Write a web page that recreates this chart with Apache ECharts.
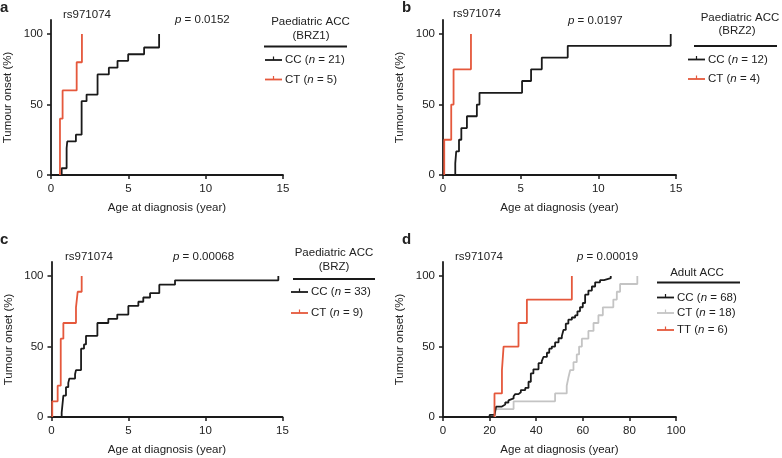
<!DOCTYPE html>
<html><head><meta charset="utf-8">
<script src="https://cdn.jsdelivr.net/npm/echarts@6/dist/echarts.min.js"></script>
<style>html,body{margin:0;padding:0;background:#fff}#c{width:782px;height:458px}</style>
</head><body><div id="c"></div>
<script>
// ---------- data ----------
const yTicks = [0, 50, 100];
const xTicksPaed = [0, 5, 10, 15];
const xTicksAdult = [0, 20, 40, 60, 80, 100];

// Panel a (BRZ1)
const aCC_t = [0.69, 0.69, 1.01, 1.05, 1.61, 1.98, 2.3, 3.01, 3.74, 4.3, 4.99, 6.02, 6.99];
const aCC_v = [0, 4.8, 19.0, 23.8, 28.6, 52.4, 57.1, 71.4, 76.2, 81.0, 85.7, 90.5, 100];
const aCT_t = [0.58, 0.58, 0.75, 1.66, 2.0];
const aCT_v = [0, 40, 60, 80, 100];

// Panel b (BRZ2)
const bCC_t = [0.79, 0.79, 0.85, 1.03, 1.18, 1.54, 2.18, 2.35, 5.09, 5.67, 6.36, 8.03, 14.66];
const bCC_v = [0, 8.3, 16.7, 25, 33.3, 41.7, 50, 58.3, 66.7, 75, 83.3, 91.7, 100];
const bCT_t = [0.08, 0.08, 0.53, 0.68, 1.8];
const bCT_v = [0, 25, 50, 75, 100];

// Panel c (BRZ)
const cCC_t = [0.66, 0.66, 0.77, 0.94, 1.09, 1.16, 1.53, 1.59, 1.92, 2.11, 2.24, 2.98, 3.69, 4.27, 4.99, 5.64, 5.96, 6.4, 7.0, 8.02, 14.73];
const cCC_v = [0, 3.0, 15.2, 21.2, 24.2, 27.3, 30.3, 33.3, 48.5, 51.5, 57.6, 66.7, 69.7, 72.7, 78.8, 81.8, 84.8, 87.9, 93.9, 97.0, 100];
const cCT_t = [0.05, 0.05, 0.4, 0.6, 0.77, 1.59, 1.7, 1.96];
const cCT_v = [0, 11.1, 22.2, 55.6, 66.7, 77.8, 88.9, 100];

// Panel d (Adult)
const dCC_t = [20, 20, 22.1, 22.8, 25.3, 26.7, 28.1, 28.8, 30.3, 31, 32.4, 33.4, 35.3, 36.7, 37.7, 38.8, 41, 42.4, 43.1, 44.6, 45.6, 46.7, 48.1, 49.6, 51, 51.7, 52.7, 53.8, 55.3, 56.7, 57.7, 58.8, 60, 61, 62.4, 63.9, 65.3, 67.4, 69.1, 72];
const dCC_v = [0, 1.5, 2.9, 7.4, 8.8, 10.3, 11.8, 13.2, 14.7, 16.2, 17.6, 19.1, 20.6, 25.0, 30.9, 33.8, 38.2, 39.7, 42.6, 45.6, 48.5, 50.0, 52.9, 55.9, 57.4, 61.8, 66.2, 69.1, 70.6, 72.1, 75.0, 77.9, 80.9, 86.8, 89.7, 92.6, 95.6, 97.1, 98.5, 100];
const dCT_t = [22.4, 22.4, 30.3, 48.1, 53.1, 53.8, 54.6, 56, 57.4, 58.4, 59.6, 62.4, 64.6, 66.7, 68.6, 73.1, 74.6, 76, 83.4];
const dCT_v = [0, 5.6, 11.1, 16.7, 22.2, 27.8, 33.3, 38.9, 44.4, 50, 55.6, 61.1, 66.7, 72.2, 77.8, 83.3, 88.9, 94.4, 100];
const dTT_t = [22.1, 22.1, 25.3, 26, 32.4, 36, 55.3];
const dTT_v = [0, 16.7, 33.3, 50, 66.7, 83.3, 100];

// ---------- styling ----------
const FONT = 'Liberation Sans, Arial, Helvetica, sans-serif';
const BLACK = '#1a1a1a', RED = '#e5583c', GREY = '#c4c4c4';
const FS = 11.5;

const zip = (t, v) => t.map((x, i) => [x, v[i]]);

const grids = [
  {left: 51, top: 20, width: 232, height: 155},
  {left: 443, top: 20, width: 233, height: 155},
  {left: 51.5, top: 262, width: 231, height: 155},
  {left: 443, top: 262, width: 233, height: 155}
];

function xAxis(i, max, interval, ticks) {
  return {
    type: 'value', gridIndex: i, min: 0, max: max, interval: interval,
    name: 'Age at diagnosis (year)', nameLocation: 'middle', nameGap: 27,
    nameTextStyle: {fontFamily: FONT, fontSize: FS, color: '#222'},
    axisLine: {show: true, onZero: false, lineStyle: {color: BLACK, width: 1.8}},
    axisTick: {show: true, length: 4, lineStyle: {color: BLACK, width: 1.5}, customValues: ticks},
    axisLabel: {fontFamily: FONT, fontSize: FS, color: '#222', margin: 8, customValues: ticks},
    splitLine: {show: false}
  };
}
function yAxis(i) {
  return {
    type: 'value', gridIndex: i, min: 0, max: 110, interval: 50,
    name: 'Tumour onset (%)', nameLocation: 'middle', nameGap: 37, nameRotate: 90,
    nameTextStyle: {fontFamily: FONT, fontSize: FS, color: '#222'},
    axisLine: {show: true, onZero: false, lineStyle: {color: BLACK, width: 1.8}},
    axisTick: {show: true, length: 4, lineStyle: {color: BLACK, width: 1.5}, customValues: yTicks},
    axisLabel: {fontFamily: FONT, fontSize: FS, color: '#222', margin: 8, customValues: yTicks},
    splitLine: {show: false}
  };
}
function km(i, t, v, color) {
  return {
    type: 'line', xAxisIndex: i, yAxisIndex: i, step: 'end',
    data: zip(t, v), symbol: 'none', animation: false,
    lineStyle: {color: color, width: 1.8}
  };
}

// ---------- graphics (labels & legends) ----------
const g = [];
function txt(x, y, text, opts) {
  g.push({type: 'text', x: x, y: y, silent: true, style: Object.assign({
    text: text, fontFamily: FONT, fontSize: FS, fill: '#222',
    align: 'left', verticalAlign: 'middle',
    rich: {i: {fontStyle: 'italic', fontFamily: FONT, fontSize: FS, fill: '#222'}}
  }, opts || {})});
}
function hline(x1, x2, y, color, w) {
  g.push({type: 'line', silent: true, shape: {x1: x1, y1: y, x2: x2, y2: y}, style: {stroke: color, lineWidth: w}});
}
function sample(x, y, color, label) {
  hline(x, x + 17, y, color, 1.8);
  g.push({type: 'line', silent: true, shape: {x1: x + 8.5, y1: y - 3.5, x2: x + 8.5, y2: y}, style: {stroke: color, lineWidth: 1.2}});
  txt(x + 20, y, label);
}
function panelLetter(x, y, l) {
  txt(x, y, l, {fontWeight: 'bold', fontSize: 15, verticalAlign: 'top'});
}

// panel a
panelLetter(0, 0, 'a');
txt(63, 15, 'rs971074');
txt(175, 20, '{i|p} = 0.0152');
txt(310.5, 22, 'Paediatric ACC', {align: 'center'});
txt(311, 36, '(BRZ1)', {align: 'center'});
hline(264, 347, 46.5, BLACK, 1.8);
sample(265, 60, BLACK, 'CC ({i|n} = 21)');
sample(265, 79.5, RED, 'CT ({i|n} = 5)');

// panel b
panelLetter(402, 0, 'b');
txt(453, 14, 'rs971074');
txt(568, 21, '{i|p} = 0.0197');
txt(740, 18, 'Paediatric ACC', {align: 'center'});
txt(737, 31, '(BRZ2)', {align: 'center'});
hline(694, 777, 46, BLACK, 1.8);
sample(688, 59.5, BLACK, 'CC ({i|n} = 12)');
sample(688, 79, RED, 'CT ({i|n} = 4)');

// panel c
panelLetter(0, 232, 'c');
txt(65, 257, 'rs971074');
txt(173, 257, '{i|p} = 0.00068');
txt(334, 253, 'Paediatric ACC', {align: 'center'});
txt(334, 267, '(BRZ)', {align: 'center'});
hline(293, 375, 279, BLACK, 1.8);
sample(291, 292, BLACK, 'CC ({i|n} = 33)');
sample(291, 313, RED, 'CT ({i|n} = 9)');

// panel d
panelLetter(402, 232, 'd');
txt(455, 257, 'rs971074');
txt(577, 257, '{i|p} = 0.00019');
txt(697, 273, 'Adult ACC', {align: 'center'});
hline(657, 740, 282.5, BLACK, 1.8);
sample(657, 297.5, BLACK, 'CC ({i|n} = 68)');
sample(657, 313, GREY, 'CT ({i|n} = 18)');
sample(657, 330, RED, 'TT ({i|n} = 6)');

const chart = echarts.init(document.getElementById('c'), null, {renderer: 'canvas'});
chart.setOption({
  animation: false,
  backgroundColor: '#fff',
  grid: grids,
  xAxis: [xAxis(0, 15, 5, xTicksPaed), xAxis(1, 15, 5, xTicksPaed), xAxis(2, 15, 5, xTicksPaed), xAxis(3, 100, 20, xTicksAdult)],
  yAxis: [yAxis(0), yAxis(1), yAxis(2), yAxis(3)],
  series: [
    km(0, aCC_t, aCC_v, BLACK), km(0, aCT_t, aCT_v, RED),
    km(1, bCC_t, bCC_v, BLACK), km(1, bCT_t, bCT_v, RED),
    km(2, cCC_t, cCC_v, BLACK), km(2, cCT_t, cCT_v, RED),
    km(3, dCT_t, dCT_v, GREY), km(3, dCC_t, dCC_v, BLACK), km(3, dTT_t, dTT_v, RED)
  ],
  graphic: g
});
</script>
</body></html>
